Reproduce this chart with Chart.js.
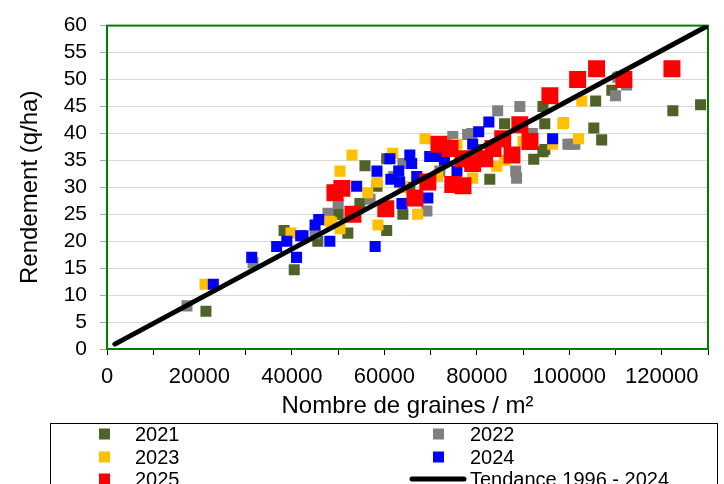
<!DOCTYPE html>
<html>
<head>
<meta charset="utf-8">
<script src="https://cdn.jsdelivr.net/npm/chart.js@4"></script>
<style>
  body { margin: 0; background: #fff; }
  canvas { display: block; }
</style>
</head>
<body>
<canvas id="chart" width="724" height="484"></canvas>
<script>
// grains / m² (x) and yield q/ha (y), per year
const x2021 = [21400, 40500, 38300, 45600, 50000, 52100, 55800, 60500, 64000, 49700, 54700, 58400, 60500, 82800, 86000, 94700, 94300, 94700, 92300, 109200, 105700, 105300, 107000, 122400, 128400, 65500, 73000, 80000, 94300];
const y2021 = [7, 14.7, 22, 20, 25, 21.5, 34, 22, 25, 25, 27, 30.2, 35.3, 31.5, 41.8, 41.8, 45, 37, 35.2, 48, 46, 41, 38.8, 44.2, 45.3, 30, 36, 37, 36.6];

const x2022 = [17300, 31600, 45000, 47800, 50000, 56900, 64000, 69200, 74800, 78000, 84500, 89300, 78900, 88400, 88600, 99700, 101200, 110500, 112400, 110000, 100500, 62000, 72000, 84000, 92000];
const y2022 = [8, 16, 21.4, 25.2, 27, 27.8, 34.4, 25.6, 39.4, 39.8, 44.2, 45, 40, 33, 31.7, 38, 38, 50.4, 49, 47, 38, 32, 33, 38, 40];

const x2023 = [21200, 39800, 48600, 50400, 53000, 50400, 56400, 58400, 58600, 67200, 61800, 68800, 75700, 48200, 98600, 102000, 96400, 102700, 84300, 79100, 98800, 64000, 71500, 86000, 90000];
const y2023 = [12, 21.5, 23.4, 22.3, 36, 33, 29, 31, 23, 25, 36.3, 39, 38, 23.7, 41.8, 39, 38, 46, 33.9, 31.7, 42, 30, 32, 35, 38.5];

const x2024 = [23000, 31300, 36700, 38900, 41000, 41900, 45000, 45800, 48200, 42400, 58000, 54000, 58400, 61200, 65500, 63100, 61400, 63300, 63800, 69400, 65900, 69800, 71300, 79100, 82600, 80400, 96400, 75700, 67000, 73000];
const y2024 = [12, 17, 19, 20, 17, 21, 23, 24, 20, 21, 19, 30.2, 33, 35.3, 36, 33, 31.5, 31, 27, 28, 34.4, 35.7, 35.7, 38, 42.1, 40.3, 39, 33, 32, 35];

const x2025 = [49300, 50800, 53200, 60300, 66600, 71800, 74800, 77000, 69400, 95800, 101800, 105900, 111800, 122200, 89300, 91500, 85600, 87600, 81700, 79100, 74200, 77000, 83500];
const y2025 = [29, 29.8, 25, 26, 28, 38, 30.5, 30.3, 31, 47, 50, 52, 50, 52, 41.6, 38.5, 39, 36, 35.3, 34.4, 37.2, 35.3, 37.2];

// trend 1996 - 2024, end points
const xTrend = [1700, 130000];
const yTrend = [0.9, 60];

const years = ['2021', '2022', '2023', '2024', '2025'];
const trendLabel = 'Tendance 1996 - 2024';

const xTicksMax = 130000;
const yTicksMax = 60;

function pairs(xs, ys) {
    return xs.map((x, i) => ({ x: x, y: ys[i] }));
}

const fontFamily = "'Liberation Sans', Arial, sans-serif";

// green frame around the plot
const plotFrame = {
    id: 'plotFrame',
    beforeDatasetsDraw(chart) {
        const { ctx, chartArea: a } = chart;
        ctx.save();
        ctx.strokeStyle = '#008000';
        ctx.lineWidth = 2;
        ctx.strokeRect(a.left, a.top, a.right - a.left, a.bottom - a.top);
        ctx.restore();
    }
};

// boxed two-column legend under the chart
const legendBox = {
    id: 'legendBox',
    afterDraw(chart) {
        const ctx = chart.ctx;
        ctx.save();
        ctx.strokeStyle = '#000';
        ctx.lineWidth = 1;
        ctx.strokeRect(50.5, 423.5, 667, 80);
        ctx.font = '20px ' + fontFamily;
        ctx.textBaseline = 'middle';
        const rowsY = [434, 457, 479];
        const markX = [104.5, 438.5];
        const textX = [135, 470];
        chart.data.datasets.forEach((ds, i) => {
            const col = i % 2;
            const y = rowsY[Math.floor(i / 2)];
            if (ds.showLine) {
                ctx.strokeStyle = ds.borderColor;
                ctx.lineWidth = 5;
                ctx.lineCap = 'round';
                ctx.beginPath();
                ctx.moveTo(412, y);
                ctx.lineTo(464, y);
                ctx.stroke();
            } else {
                ctx.fillStyle = ds.backgroundColor;
                ctx.fillRect(markX[col] - 5.5, y - 5.5, 11, 11);
            }
            ctx.fillStyle = '#000';
            ctx.fillText(ds.label, textX[col], y + 1);
        });
        ctx.restore();
    }
};

const colors = ['#4F6228', '#808080', '#FFC000', '#0000FF', '#FF0000'];
const xs = [x2021, x2022, x2023, x2024, x2025];
const ys = [y2021, y2022, y2023, y2024, y2025];

const datasets = years.map((yr, i) => ({
    label: yr,
    data: pairs(xs[i], ys[i]),
    backgroundColor: colors[i],
    borderWidth: 0,
    pointStyle: 'rect',
    pointRadius: yr === '2025' ? 12 : 7.8,
    order: 5 - i
}));

datasets.push({
    label: trendLabel,
    data: pairs(xTrend, yTrend),
    showLine: true,
    borderColor: '#000',
    borderWidth: 5,
    borderCapStyle: 'round',
    pointRadius: 0,
    order: 0
});

new Chart(document.getElementById('chart'), {
    type: 'scatter',
    data: { datasets: datasets },
    options: {
        responsive: false,
        animation: false,
        devicePixelRatio: 1,
        layout: { padding: { top: 23, right: 16, bottom: 60, left: 0 } },
        plugins: {
            legend: { display: false },
            tooltip: { enabled: false }
        },
        scales: {
            x: {
                type: 'linear',
                min: 0,
                max: xTicksMax,
                border: { display: false },
                grid: { drawOnChartArea: false, tickLength: 6, tickColor: '#000' },
                ticks: {
                    stepSize: 10000,
                    autoSkip: false,
                    maxRotation: 0,
                    padding: 9,
                    color: '#000',
                    font: { family: fontFamily, size: 22 },
                    callback: v => (v % 20000 === 0 ? String(v) : '')
                },
                title: {
                    display: true,
                    text: 'Nombre de graines / m²',
                    color: '#000',
                    font: { family: fontFamily, size: 24 },
                    padding: { top: 0, bottom: 3 }
                },
                afterFit(scale) { scale.height = 75; }
            },
            y: {
                min: 0,
                max: yTicksMax,
                border: { display: false },
                grid: { color: '#D9D9D9', lineWidth: 1, tickLength: 7, tickColor: '#A6A6A6' },
                ticks: {
                    stepSize: 5,
                    autoSkip: false,
                    padding: 13,
                    color: '#000',
                    font: { family: fontFamily, size: 21 }
                },
                title: {
                    display: true,
                    text: 'Rendement (q/ha)',
                    color: '#000',
                    font: { family: fontFamily, size: 24 },
                    padding: { top: 16, bottom: 0 }
                },
                afterFit(scale) { scale.width = 107; }
            }
        }
    },
    plugins: [plotFrame, legendBox]
});
</script>
</body>
</html>
